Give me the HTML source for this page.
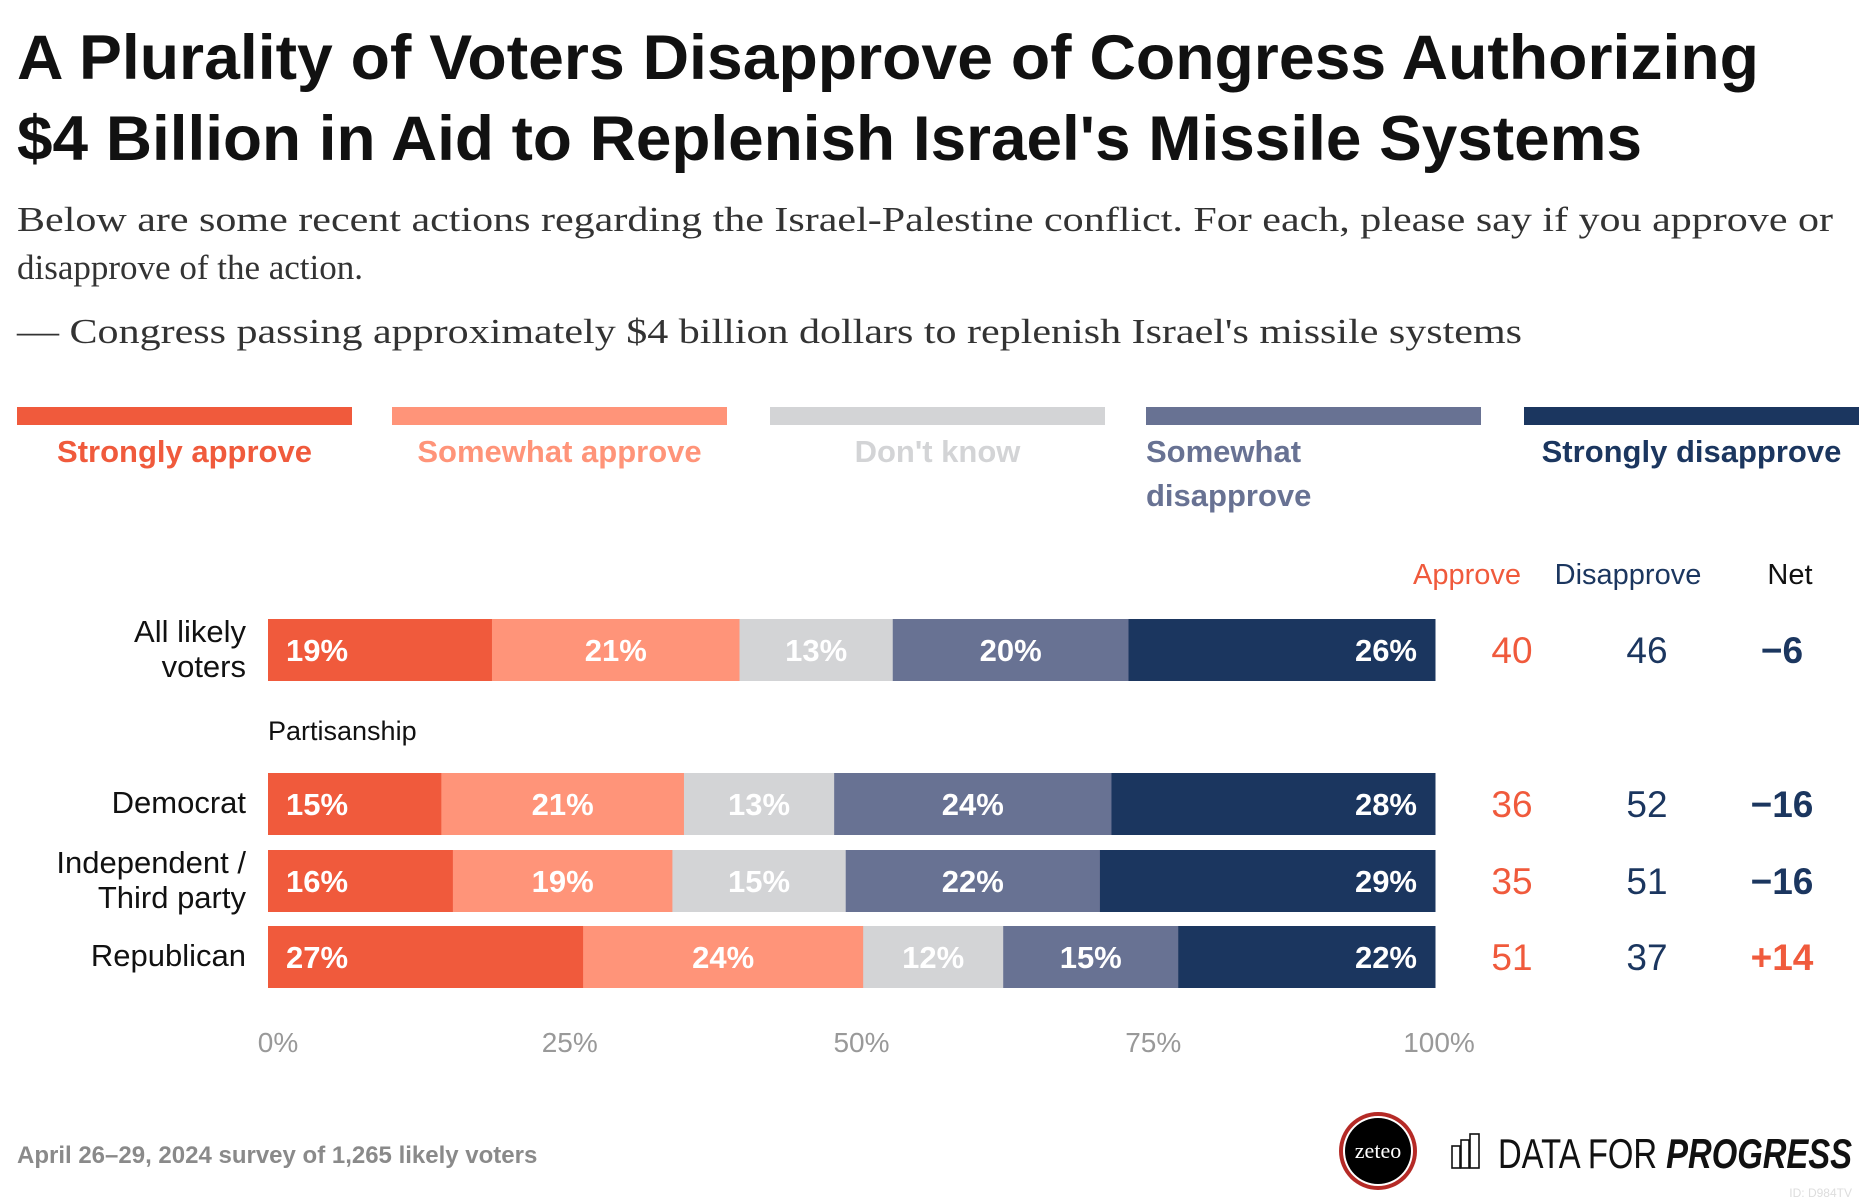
<!DOCTYPE html>
<html><head><meta charset="utf-8"><style>
html,body{margin:0;padding:0;background:#fff;}
svg{display:block;font-family:"Liberation Sans",sans-serif;}
</style></head><body>
<svg id="chart" width="1866" height="1202" viewBox="0 0 1866 1202">
<text x="17" y="79" font-size="63" font-weight="bold" fill="#111" textLength="1742" lengthAdjust="spacingAndGlyphs">A Plurality of Voters Disapprove of Congress Authorizing</text>
<text x="17" y="160" font-size="63" font-weight="bold" fill="#111" textLength="1625" lengthAdjust="spacingAndGlyphs">$4 Billion in Aid to Replenish Israel's Missile Systems</text>
<g font-family="Liberation Serif, serif" font-size="35" fill="#333">
<text x="17" y="231" textLength="1816" lengthAdjust="spacingAndGlyphs">Below are some recent actions regarding the Israel-Palestine conflict. For each, please say if you approve or</text>
<text x="17" y="279">disapprove of the action.</text>
<text x="17" y="343" textLength="1505" lengthAdjust="spacingAndGlyphs">— Congress passing approximately $4 billion dollars to replenish Israel's missile systems</text>
</g>
<g id="legend"></g>
<g id="headers" font-size="29" text-anchor="middle">
<text x="1467" y="584" fill="#F05A3C">Approve</text>
<text x="1628" y="584" fill="#1B365F">Disapprove</text>
<text x="1790" y="584" fill="#111">Net</text>
</g>
<text x="268" y="740" font-size="27" fill="#111">Partisanship</text>
<g id="bars"></g>
<g id="axis"></g>
<text x="17" y="1163" font-size="24" font-weight="bold" fill="#8a8a8a">April 26–29, 2024 survey of 1,265 likely voters</text>
<g>
<circle cx="1378" cy="1151" r="39" fill="#b52a26"/>
<circle cx="1378" cy="1151" r="35" fill="#fff"/>
<circle cx="1378" cy="1151" r="33" fill="#000"/>
<text x="1378" y="1158" font-family="Liberation Serif, serif" font-size="22" fill="#fff" text-anchor="middle">zeteo</text>
</g>
<g fill="none" stroke="#111" stroke-width="1.6">
<rect x="1452" y="1146" width="8" height="22"/>
<rect x="1461" y="1140" width="8" height="28"/>
<rect x="1470" y="1134" width="9" height="34"/>
</g>
<text x="1498" y="1168" font-size="42" fill="#111" textLength="354" lengthAdjust="spacingAndGlyphs">DATA FOR <tspan font-weight="bold" font-style="italic">PROGRESS</tspan></text>
<text x="1852" y="1197" font-size="12" fill="#ddd" text-anchor="end">ID: D984TV</text>
</svg>
<script>
const categories = ["Strongly approve","Somewhat approve","Don't know","Somewhat disapprove","Strongly disapprove"];
const rowNames = [["All likely","voters"],["Democrat"],["Independent /","Third party"],["Republican"]];
const strongApprove = [19,15,16,27];
const someApprove = [21,21,19,24];
const dontKnow = [13,13,15,12];
const someDisapprove = [20,24,22,15];
const strongDisapprove = [26,28,29,22];
const approveTotals = [40,36,35,51];
const disapproveTotals = [46,52,51,37];
const netValues = [-6,-16,-16,14];
const ticks = [0,25,50,75,100];

const NS="http://www.w3.org/2000/svg";
const colors=["#F05A3C","#FF9479","#D3D4D6","#687293","#1B365F"];
const rowTops=[619,773,850,926];
const barH=62, x0=268, x1=1435;
function xs(v){return x0+(x1-x0)*v/100;}
function mk(tag,attrs,parent){const e=document.createElementNS(NS,tag);for(const k in attrs)e.setAttribute(k,attrs[k]);parent.appendChild(e);return e;}

const legend=document.getElementById('legend');
const legX=[17,392,770,1146,1524], legW=335;
const legLabels=[["Strongly approve"],["Somewhat approve"],["Don't know"],["Somewhat","disapprove"],["Strongly disapprove"]];
categories.forEach((c,i)=>{
  const r=mk('rect',{x:legX[i],y:407,width:legW,height:18,fill:colors[i]},legend);
  
  
  const cx=legLabels[i].length>1?legX[i]:legX[i]+legW/2;
  const t=mk('text',{x:cx,y:462,'font-size':31,'font-weight':'bold',fill:colors[i],'text-anchor':legLabels[i].length>1?'start':'middle'},legend);
  
  
  legLabels[i].forEach((l,j)=>{const s=mk('tspan',{x:cx,dy:j?44:0},t);s.textContent=l;});
});

const bars=document.getElementById('bars');
const series=[strongApprove,someApprove,dontKnow,someDisapprove,strongDisapprove];
rowNames.forEach((nm,r)=>{
  const top=rowTops[r];
  const total=series.reduce((a,s)=>a+s[r],0);
  const lab=mk('text',{'font-size':31,fill:'#111','text-anchor':'end'},bars);
  
  
  const mid=top+barH/2;
  nm.forEach((l,j)=>{const s=mk('tspan',{x:246,y:nm.length>1?mid-8+j*35:mid+9},lab);s.textContent=l;});
  let cum=0;
  series.forEach((s,i)=>{
    const v=s[r], a=xs(cum*100/total), b=xs((cum+v)*100/total);
    const rect=mk('rect',{x:a,y:top,width:b-a+0.5,height:barH,fill:colors[i]},bars);
    
    
    let tx=(a+b)/2, anc='middle';
    if(i===0){tx=a+18;anc='start';} else if(i===4){tx=b-18;anc='end';}
    const t=mk('text',{x:tx,y:top+barH/2+11,'font-size':31,'font-weight':'bold',fill:'#fff','text-anchor':anc},bars);
    t.textContent=v+'%';
    
    
    cum+=v;
  });
  const y=top+barH/2+13;
  const ta=mk('text',{x:1512,y:y,'font-size':37,fill:'#F05A3C','text-anchor':'middle'},bars);
  ta.textContent=approveTotals[r];
  
  
  const td=mk('text',{x:1647,y:y,'font-size':37,fill:'#1B365F','text-anchor':'middle'},bars);
  td.textContent=disapproveTotals[r];
  
  
  const n=netValues[r];
  const tn=mk('text',{x:1782,y:y,'font-size':37,'font-weight':'bold',fill:n>0?'#F05A3C':'#1B365F','text-anchor':'middle'},bars);
  tn.textContent=(n>0?'+':'−')+Math.abs(n);
  
  
});

const axis=document.getElementById('axis');
ticks.forEach(t=>{
  const e=mk('text',{x:xs(t)+(t===100?4:10),y:1052,'font-size':28,fill:'#999','text-anchor':'middle'},axis);
  e.textContent=t+'%';
  
  
});
</script>
</body></html>
